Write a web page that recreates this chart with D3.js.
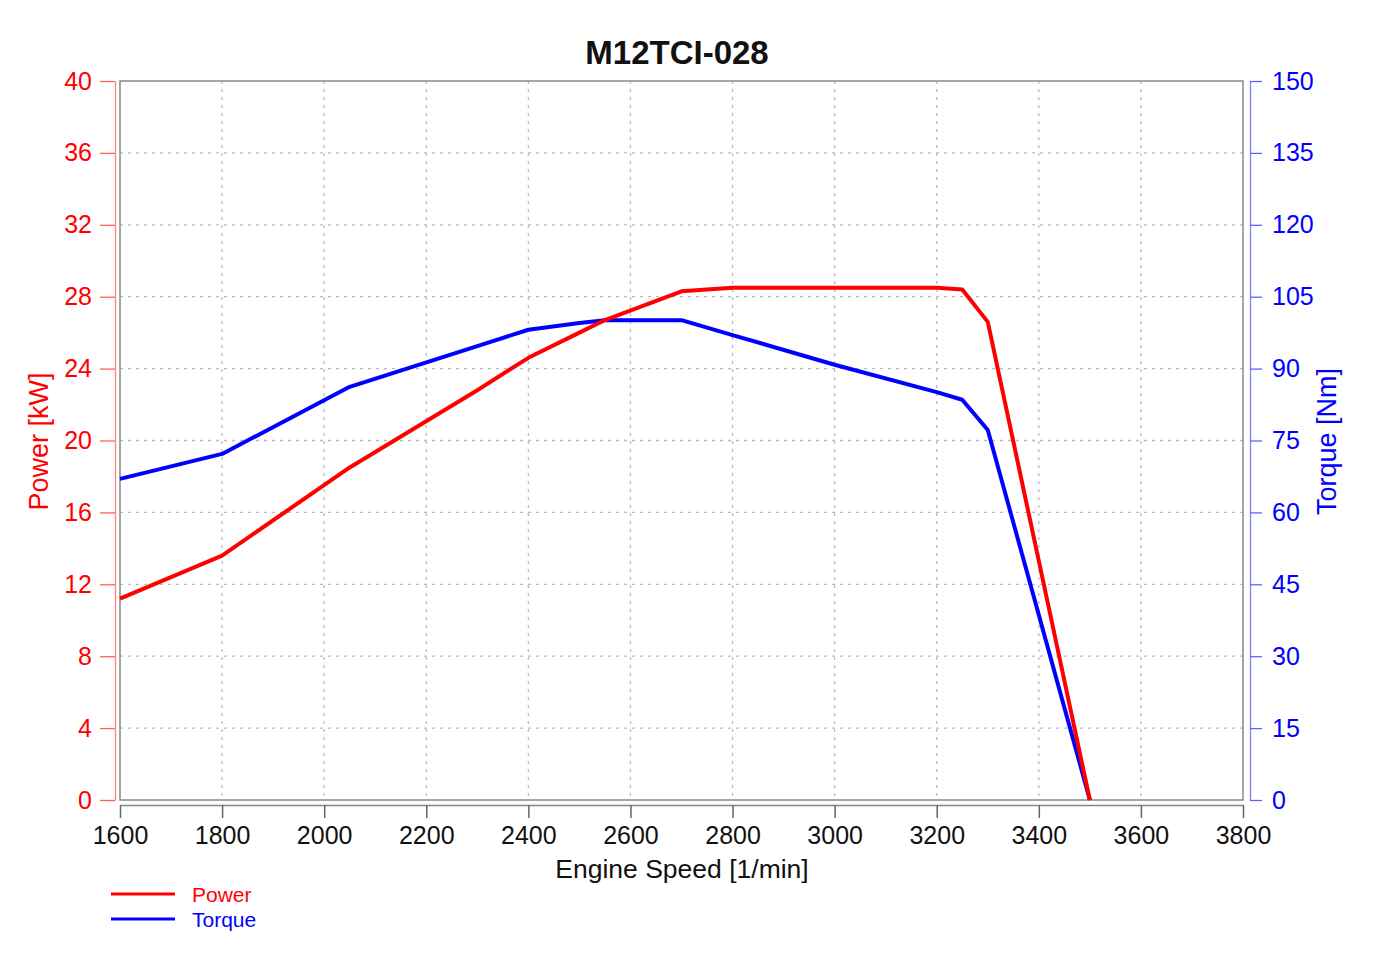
<!DOCTYPE html>
<html>
<head>
<meta charset="utf-8">
<script src="https://cdn.jsdelivr.net/npm/d3@7"></script>
<style>
  body { margin: 0; background: #fff; }
  text { font-family: "Liberation Sans", Arial, sans-serif; }
</style>
</head>
<body>
<div id="plot"></div>
<script>
// engine speed points [1/min]
var speed = [1600, 1800, 2050, 2300, 2400, 2500, 2550, 2700, 2800, 3000, 3200, 3250, 3300, 3500];
// power [kW]
var power = [11.2, 13.6, 18.5, 22.8, 24.6, 26.0, 26.7, 28.3, 28.5, 28.5, 28.5, 28.4, 26.6, 0];
// torque [Nm]
var torque = [67.0, 72.2, 86.2, 94.7, 98.1, 99.5, 100.1, 100.1, 97.0, 90.8, 85.1, 83.5, 77.2, 0];

var xTicks = [1600, 1800, 2000, 2200, 2400, 2600, 2800, 3000, 3200, 3400, 3600, 3800];
var powerTicks = [0, 4, 8, 12, 16, 20, 24, 28, 32, 36, 40];
var torqueTicks = [0, 15, 30, 45, 60, 75, 90, 105, 120, 135, 150];

const w = 1398;
const h = 974;
const red = "#ff0000";
const blue = "#0000ff";

const pLeft = 120, pRight = 1243, pTop = 81, pBottom = 800;

let xScale = d3.scaleLinear().domain([1600, 3800]).range([pLeft, pRight]);
let yPow = d3.scaleLinear().domain([0, 40]).range([pBottom, pTop]);
let yTrq = d3.scaleLinear().domain([0, 150]).range([pBottom, pTop]);

const svg = d3.select("div#plot")
  .append("svg")
  .attr("width", w)
  .attr("height", h);

// grid
svg.append("g")
  .selectAll("line")
  .data(xTicks.slice(1, -1))
  .enter()
  .append("line")
  .attr("x1", d => xScale(d)).attr("x2", d => xScale(d))
  .attr("y1", pTop).attr("y2", pBottom)
  .attr("stroke", "#bbb")
  .attr("stroke-width", 1.3)
  .attr("stroke-dasharray", "3,5");

svg.append("g")
  .selectAll("line")
  .data(powerTicks.slice(1, -1))
  .enter()
  .append("line")
  .attr("x1", pLeft).attr("x2", pRight)
  .attr("y1", d => yPow(d)).attr("y2", d => yPow(d))
  .attr("stroke", "#bbb")
  .attr("stroke-width", 1.3)
  .attr("stroke-dasharray", "3,5");

// frame
svg.append("rect")
  .attr("x", pLeft).attr("y", pTop)
  .attr("width", pRight - pLeft).attr("height", pBottom - pTop)
  .attr("fill", "none")
  .attr("stroke", "#888")
  .attr("stroke-width", 1.5);

// axes
const xAxis = d3.axisBottom(xScale).tickValues(xTicks).tickFormat(d3.format("d"))
  .tickSize(13).tickSizeOuter(0).tickPadding(8);
const xg = svg.append("g").attr("transform", `translate(0, ${pBottom + 5})`).call(xAxis);
xg.select(".domain").attr("stroke", "#888").attr("stroke-width", 1.5);
xg.selectAll(".tick line").attr("stroke", "#666").attr("stroke-width", 1.5);
xg.selectAll("text").attr("font-size", 25).attr("fill", "#111")
  .attr("font-family", "Liberation Sans, Arial, sans-serif");

const yAxisL = d3.axisLeft(yPow).tickValues(powerTicks).tickSize(15).tickSizeOuter(0).tickPadding(8);
const yl = svg.append("g").attr("transform", `translate(${pLeft - 5}, 0)`).call(yAxisL);
yl.select(".domain").attr("stroke", "#ff8080").attr("stroke-width", 1.3);
yl.selectAll(".tick line").attr("stroke", "#ff6060").attr("stroke-width", 1.3);
yl.selectAll("text").attr("font-size", 25).attr("fill", red)
  .attr("font-family", "Liberation Sans, Arial, sans-serif");

const yAxisR = d3.axisRight(yTrq).tickValues(torqueTicks).tickSize(12).tickSizeOuter(0).tickPadding(10);
const yr = svg.append("g").attr("transform", `translate(${pRight + 7}, 0)`).call(yAxisR);
yr.select(".domain").attr("stroke", "#8080ff").attr("stroke-width", 1.3);
yr.selectAll(".tick line").attr("stroke", "#6060ff").attr("stroke-width", 1.3);
yr.selectAll("text").attr("font-size", 25).attr("fill", blue)
  .attr("font-family", "Liberation Sans, Arial, sans-serif");

// titles
svg.append("text")
  .attr("x", 677).attr("y", 64)
  .attr("text-anchor", "middle")
  .attr("font-size", 33).attr("font-weight", "bold")
  .attr("fill", "#111")
  .text("M12TCI-028");

svg.append("text")
  .attr("x", 682).attr("y", 878)
  .attr("text-anchor", "middle")
  .attr("font-size", 26.5)
  .attr("fill", "#111")
  .text("Engine Speed [1/min]");

svg.append("text")
  .attr("transform", `translate(48, ${(pTop + pBottom) / 2 + 1}) rotate(-90)`)
  .attr("text-anchor", "middle")
  .attr("font-size", 27)
  .attr("fill", red)
  .text("Power [kW]");

svg.append("text")
  .attr("transform", `translate(1336, ${(pTop + pBottom) / 2 + 1}) rotate(-90)`)
  .attr("text-anchor", "middle")
  .attr("font-size", 27)
  .attr("fill", blue)
  .text("Torque [Nm]");

// curves
const powLine = d3.line()
  .x((d, i) => xScale(speed[i]))
  .y(d => yPow(d));
const trqLine = d3.line()
  .x((d, i) => xScale(speed[i]))
  .y(d => yTrq(d));

svg.append("path")
  .datum(torque)
  .attr("fill", "none")
  .attr("stroke", blue)
  .attr("stroke-width", 4)
  .attr("stroke-linejoin", "round")
  .attr("d", trqLine);

svg.append("path")
  .datum(power)
  .attr("fill", "none")
  .attr("stroke", red)
  .attr("stroke-width", 4)
  .attr("stroke-linejoin", "round")
  .attr("d", powLine);

// legend
const legend = [
  { name: "Power", color: red },
  { name: "Torque", color: blue },
];
const lg = svg.append("g");
legend.forEach((d, i) => {
  lg.append("line")
    .attr("x1", 111).attr("x2", 175)
    .attr("y1", 894 + i * 25).attr("y2", 894 + i * 25)
    .attr("stroke", d.color)
    .attr("stroke-width", 3);
  lg.append("text")
    .attr("x", 192).attr("y", 902 + i * 25)
    .attr("font-size", 21)
    .attr("fill", d.color)
    .text(d.name);
});
</script>
</body>
</html>
